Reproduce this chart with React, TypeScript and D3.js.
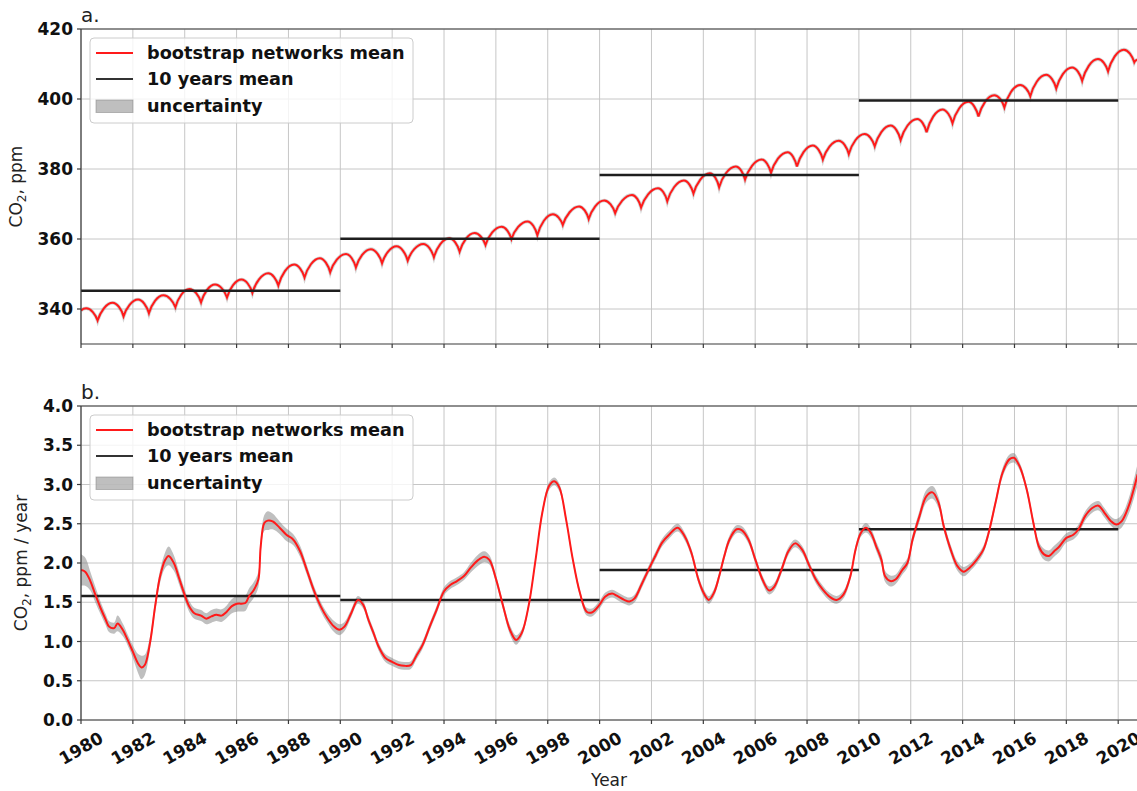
import React from "react";
import * as d3 from "d3";

// ---------- DATA ----------
const xTickYears = [1980, 1982, 1984, 1986, 1988, 1990, 1992, 1994, 1996, 1998, 2000, 2002, 2004, 2006, 2008, 2010, 2012, 2014, 2016, 2018, 2020];
const topYTicks = [340, 360, 380, 400, 420];
const bottomYTicks = [0, 0.5, 1.0, 1.5, 2.0, 2.5, 3.0, 3.5, 4.0];

// panel a: seasonal maxima / minima of CO2 (year, ppm)
const co2Extrema: [number, number][] = [
  [1980.0, 339.5], [1980.2, 340.2], [1980.64, 336.7],
  [1981.22, 341.8], [1981.64, 337.9],
  [1982.2, 342.7], [1982.62, 338.8],
  [1983.18, 343.9], [1983.64, 340.5],
  [1984.18, 345.7], [1984.63, 341.9],
  [1985.17, 347.0], [1985.63, 343.3],
  [1986.19, 348.4], [1986.61, 344.6],
  [1987.22, 350.2], [1987.61, 346.7],
  [1988.22, 352.7], [1988.62, 349.0],
  [1989.21, 354.5], [1989.61, 350.5],
  [1990.22, 355.7], [1990.6, 351.9],
  [1991.18, 357.1], [1991.61, 353.1],
  [1992.17, 357.9], [1992.6, 353.8],
  [1993.2, 358.6], [1993.61, 354.8],
  [1994.2, 360.2], [1994.6, 356.4],
  [1995.18, 361.7], [1995.6, 358.3],
  [1996.22, 363.5], [1996.6, 360.0],
  [1997.22, 365.0], [1997.6, 361.1],
  [1998.2, 367.1], [1998.58, 364.0],
  [1999.21, 369.3], [1999.58, 365.7],
  [2000.18, 371.0], [2000.6, 367.4],
  [2001.25, 372.6], [2001.6, 369.0],
  [2002.25, 374.5], [2002.61, 370.8],
  [2003.25, 376.7], [2003.62, 373.0],
  [2004.25, 378.8], [2004.61, 374.8],
  [2005.25, 380.7], [2005.61, 377.0],
  [2006.25, 382.7], [2006.61, 378.9],
  [2007.25, 384.8], [2007.61, 380.7],
  [2008.22, 386.7], [2008.61, 382.7],
  [2009.22, 388.1], [2009.61, 384.3],
  [2010.22, 390.0], [2010.61, 386.5],
  [2011.22, 392.4], [2011.61, 388.3],
  [2012.25, 394.3], [2012.61, 390.5],
  [2013.22, 397.0], [2013.61, 393.1],
  [2014.22, 399.2], [2014.61, 395.0],
  [2015.22, 401.1], [2015.61, 397.6],
  [2016.22, 404.0], [2016.61, 400.8],
  [2017.22, 406.9], [2017.61, 403.0],
  [2018.22, 409.0], [2018.61, 405.2],
  [2019.22, 411.4], [2019.61, 407.9],
  [2020.22, 414.1], [2020.62, 410.5],
  [2020.75, 411.2],
];

// panel b: growth rate (year, ppm/yr, uncertainty half-width)
const growthRate: [number, number, number][] = [
  [1980.0, 1.91, 0.2], [1980.16, 1.89, 0.18], [1980.36, 1.77, 0.12], [1980.55, 1.6, 0.1],
  [1980.75, 1.43, 0.08], [1980.95, 1.28, 0.07], [1981.08, 1.19, 0.07], [1981.28, 1.17, 0.07],
  [1981.41, 1.23, 0.1], [1981.61, 1.15, 0.08], [1981.8, 1.02, 0.07], [1982.0, 0.87, 0.08],
  [1982.2, 0.72, 0.12], [1982.33, 0.67, 0.15], [1982.46, 0.7, 0.13], [1982.66, 0.98, 0.08],
  [1982.86, 1.45, 0.08], [1983.05, 1.83, 0.08], [1983.25, 2.04, 0.1], [1983.38, 2.09, 0.12],
  [1983.58, 2.0, 0.1], [1983.78, 1.81, 0.08], [1983.97, 1.62, 0.07], [1984.17, 1.45, 0.07],
  [1984.37, 1.36, 0.07], [1984.63, 1.33, 0.07], [1984.83, 1.29, 0.07], [1985.03, 1.32, 0.08],
  [1985.22, 1.34, 0.08], [1985.42, 1.33, 0.08], [1985.62, 1.38, 0.08], [1985.82, 1.45, 0.09],
  [1986.01, 1.48, 0.1], [1986.34, 1.49, 0.1], [1986.47, 1.57, 0.1], [1986.67, 1.66, 0.1],
  [1986.84, 1.79, 0.1], [1986.93, 2.21, 0.1], [1987.07, 2.51, 0.1], [1987.2, 2.54, 0.12],
  [1987.39, 2.53, 0.1], [1987.66, 2.45, 0.08], [1987.92, 2.36, 0.08], [1988.18, 2.3, 0.07],
  [1988.45, 2.15, 0.07], [1988.71, 1.91, 0.06], [1988.97, 1.66, 0.06], [1989.24, 1.45, 0.06],
  [1989.5, 1.3, 0.06], [1989.76, 1.19, 0.07], [1989.96, 1.15, 0.07], [1990.16, 1.19, 0.06],
  [1990.42, 1.36, 0.05], [1990.68, 1.53, 0.05], [1990.88, 1.47, 0.05], [1991.08, 1.28, 0.05],
  [1991.28, 1.11, 0.05], [1991.47, 0.94, 0.05], [1991.74, 0.79, 0.05], [1992.0, 0.74, 0.05],
  [1992.26, 0.7, 0.05], [1992.46, 0.69, 0.05], [1992.72, 0.7, 0.05], [1992.92, 0.81, 0.05],
  [1993.18, 0.96, 0.05], [1993.45, 1.19, 0.05], [1993.71, 1.4, 0.05], [1994.0, 1.64, 0.05],
  [1994.24, 1.72, 0.05], [1994.5, 1.77, 0.05], [1994.76, 1.83, 0.05], [1995.03, 1.94, 0.06],
  [1995.29, 2.03, 0.07], [1995.55, 2.08, 0.07], [1995.75, 2.04, 0.06], [1996.01, 1.79, 0.05],
  [1996.28, 1.45, 0.05], [1996.54, 1.15, 0.06], [1996.78, 1.02, 0.06], [1997.0, 1.11, 0.05],
  [1997.26, 1.45, 0.04], [1997.53, 2.04, 0.04], [1997.79, 2.64, 0.04], [1998.05, 2.98, 0.05],
  [1998.25, 3.04, 0.05], [1998.45, 2.96, 0.05], [1998.71, 2.55, 0.04], [1998.97, 2.04, 0.04],
  [1999.24, 1.62, 0.04], [1999.5, 1.38, 0.05], [1999.7, 1.37, 0.05], [2000.0, 1.47, 0.05],
  [2000.21, 1.57, 0.05], [2000.48, 1.61, 0.05], [2000.68, 1.58, 0.05], [2000.95, 1.53, 0.05],
  [2001.15, 1.51, 0.05], [2001.35, 1.55, 0.05], [2001.61, 1.72, 0.05], [2001.88, 1.91, 0.05],
  [2002.15, 2.09, 0.05], [2002.41, 2.26, 0.05], [2002.68, 2.36, 0.05], [2003.01, 2.45, 0.05],
  [2003.28, 2.34, 0.05], [2003.54, 2.13, 0.05], [2003.81, 1.79, 0.05], [2004.01, 1.62, 0.05],
  [2004.21, 1.53, 0.05], [2004.41, 1.62, 0.05], [2004.61, 1.83, 0.05], [2004.81, 2.09, 0.05],
  [2005.01, 2.3, 0.05], [2005.28, 2.43, 0.05], [2005.48, 2.42, 0.05], [2005.74, 2.3, 0.05],
  [2006.01, 2.04, 0.05], [2006.28, 1.79, 0.05], [2006.54, 1.65, 0.05], [2006.74, 1.7, 0.05],
  [2007.01, 1.91, 0.05], [2007.28, 2.15, 0.05], [2007.54, 2.25, 0.05], [2007.81, 2.17, 0.05],
  [2008.07, 1.98, 0.05], [2008.34, 1.79, 0.05], [2008.61, 1.66, 0.05], [2008.87, 1.57, 0.05],
  [2009.14, 1.53, 0.05], [2009.41, 1.6, 0.05], [2009.67, 1.83, 0.05], [2009.87, 2.17, 0.05],
  [2010.07, 2.38, 0.05], [2010.27, 2.45, 0.06], [2010.47, 2.38, 0.06], [2010.67, 2.21, 0.06],
  [2010.87, 2.04, 0.07], [2011.01, 1.83, 0.07], [2011.21, 1.77, 0.07], [2011.41, 1.79, 0.06],
  [2011.67, 1.91, 0.06], [2011.87, 2.0, 0.06], [2012.07, 2.3, 0.06], [2012.34, 2.6, 0.07],
  [2012.6, 2.85, 0.08], [2012.84, 2.9, 0.08], [2013.07, 2.77, 0.07], [2013.27, 2.47, 0.06],
  [2013.54, 2.17, 0.06], [2013.8, 1.96, 0.06], [2014.04, 1.89, 0.06], [2014.27, 1.94, 0.05],
  [2014.54, 2.04, 0.05], [2014.8, 2.17, 0.05], [2015.0, 2.38, 0.05], [2015.27, 2.77, 0.05],
  [2015.54, 3.15, 0.06], [2015.8, 3.32, 0.06], [2015.98, 3.34, 0.06], [2016.2, 3.23, 0.05],
  [2016.47, 2.94, 0.05], [2016.73, 2.51, 0.05], [2016.94, 2.21, 0.06], [2017.14, 2.11, 0.07],
  [2017.33, 2.09, 0.07], [2017.53, 2.15, 0.07], [2017.73, 2.21, 0.07], [2018.0, 2.32, 0.06],
  [2018.27, 2.36, 0.06], [2018.47, 2.43, 0.06], [2018.73, 2.6, 0.06], [2019.0, 2.7, 0.06],
  [2019.24, 2.73, 0.06], [2019.47, 2.64, 0.06], [2019.73, 2.53, 0.06], [2019.93, 2.49, 0.07],
  [2020.13, 2.53, 0.08], [2020.4, 2.72, 0.1], [2020.6, 2.94, 0.12], [2020.75, 3.13, 0.14],
];

const decadeStarts = [1980, 1990, 2000, 2010];
const co2DecadeMean = [345.2, 360.1, 378.3, 399.6];
const growthDecadeMean = [1.58, 1.53, 1.91, 2.43];

const legendLabels = ["bootstrap networks mean", "10 years mean", "uncertainty"];

// ---------- LAYOUT ----------
const W = 1137;
const H = 791;
const FONT = "DejaVu Sans";
const X0 = 81;
const PX_PER_YEAR = 25.93;
const X_END = 2020.75;

const x = d3.scaleLinear().domain([1980, X_END]).range([X0, X0 + PX_PER_YEAR * (X_END - 1980)]);
const yTop = d3.scaleLinear().domain([330, 420]).range([344, 29]);
const yBot = d3.scaleLinear().domain([0, 4]).range([720, 406]);

const GRID = "#c6c6c6";
const SPINE = "#3a3a3a";
const RED = "#ff1a1a";
const MEANC = "#1e1e1e";

function seasonalPath(pts: [number, number][]): string {
  const p = d3.path();
  pts.forEach(([yr, v], i) => {
    const X = x(yr);
    const Y = yTop(v);
    if (i === 0) {
      p.moveTo(X, Y);
      return;
    }
    const [py, pv] = pts[i - 1];
    const Xp = x(py);
    const Yp = yTop(pv);
    const dx = X - Xp;
    const dy = Y - Yp;
    if (v > pv) {
      p.bezierCurveTo(Xp + 0.18 * dx, Yp + 0.5 * dy, X - 0.4 * dx, Y, X, Y);
    } else {
      p.bezierCurveTo(Xp + 0.4 * dx, Yp, X - 0.18 * dx, Y - 0.5 * dy, X, Y);
    }
  });
  return p.toString();
}

function Legend({ left, top }: { left: number; top: number }) {
  const rows = [15, 41, 68];
  return (
    <g>
      <rect x={left} y={top} width={323} height={85} rx={4} fill="white" fillOpacity={0.8} stroke="#cccccc" strokeWidth={1} />
      <line x1={left + 6} x2={left + 43} y1={top + rows[0]} y2={top + rows[0]} stroke={RED} strokeWidth={2} />
      <line x1={left + 6} x2={left + 43} y1={top + rows[1]} y2={top + rows[1]} stroke="#333" strokeWidth={2} />
      <rect x={left + 6} y={top + rows[2] - 6} width={37} height={12.5} fill="#808080" fillOpacity={0.5} stroke="#808080" strokeOpacity={0.5} strokeWidth={1} />
      {legendLabels.map((t, i) => (
        <text key={t} x={left + 57} y={top + rows[i]} dy="0.36em" fontFamily={FONT} fontWeight="bold" fontSize={17.7} fill="#111">
          {t}
        </text>
      ))}
    </g>
  );
}

function Panel({
  yScale,
  yTicks,
  fmt,
  letter,
  showXLabels,
  children,
}: {
  yScale: d3.ScaleLinear<number, number>;
  yTicks: number[];
  fmt: (v: number) => string;
  letter: string;
  showXLabels: boolean;
  children: React.ReactNode;
}) {
  const [yb, yt] = yScale.range();
  const [xl, xr] = x.range();
  const clipId = "clip-" + letter;
  return (
    <g>
      <defs>
        <clipPath id={clipId}>
          <rect x={xl} y={yt} width={xr - xl + 2} height={yb - yt} />
        </clipPath>
      </defs>
      {xTickYears.map((yr) => (
        <line key={"gx" + yr} x1={x(yr)} x2={x(yr)} y1={yt} y2={yb} stroke={GRID} strokeWidth={1} />
      ))}
      {yTicks.map((v) => (
        <line key={"gy" + v} x1={xl} x2={xr} y1={yScale(v)} y2={yScale(v)} stroke={GRID} strokeWidth={1} />
      ))}
      <g clipPath={`url(#${clipId})`}>{children}</g>
      <line x1={xl} x2={xr + 2} y1={yt} y2={yt} stroke={SPINE} strokeWidth={1.2} />
      <line x1={xl} x2={xr + 2} y1={yb} y2={yb} stroke={SPINE} strokeWidth={1.2} />
      <line x1={xl} x2={xl} y1={yt} y2={yb} stroke={SPINE} strokeWidth={1.2} />
      {yTicks.map((v) => (
        <g key={"ty" + v}>
          <line x1={xl - 4} x2={xl} y1={yScale(v)} y2={yScale(v)} stroke={SPINE} strokeWidth={1.2} />
          <text x={xl - 8} y={yScale(v)} dy="0.36em" textAnchor="end" fontFamily={FONT} fontWeight="bold" fontSize={17} fill="#111">
            {fmt(v)}
          </text>
        </g>
      ))}
      {xTickYears.map((yr) => (
        <g key={"tx" + yr}>
          <line x1={x(yr)} x2={x(yr)} y1={yb} y2={yb + 4} stroke={SPINE} strokeWidth={1.2} />
          {showXLabels && (
            <text
              transform={`translate(${x(yr)},${yb + 28}) rotate(-30)`}
              textAnchor="middle"
              dy="0.36em"
              fontFamily={FONT}
              fontWeight="bold"
              fontSize={17}
              fill="#111"
            >
              {yr}
            </text>
          )}
        </g>
      ))}
      <text x={xl} y={yt - 7} fontFamily={FONT} fontSize={20} fill="#222">
        {letter}
      </text>
    </g>
  );
}

export default function App() {
  const topLine = seasonalPath(co2Extrema);
  const bandGen = d3
    .area<[number, number, number]>()
    .x((d) => x(d[0]))
    .y0((d) => yBot(d[1] - d[2]))
    .y1((d) => yBot(d[1] + d[2]))
    .curve(d3.curveCatmullRom);
  const lineGen = d3
    .line<[number, number, number]>()
    .x((d) => x(d[0]))
    .y((d) => yBot(d[1]))
    .curve(d3.curveCatmullRom);

  return (
    <svg width={W} height={H} style={{ position: "absolute", left: 0, top: 0, background: "white" }}>
      <rect x={0} y={0} width={W} height={H} fill="white" />
      <Panel yScale={yTop} yTicks={topYTicks} fmt={(v) => String(v)} letter="a." showXLabels={false}>
        <path d={topLine} fill="none" stroke="#808080" strokeOpacity={0.35} strokeWidth={3.6} />
        <path d={topLine} fill="none" stroke={RED} strokeWidth={2} />
        {decadeStarts.map((s, i) => (
          <line key={"mt" + s} x1={x(s)} x2={x(s + 10)} y1={yTop(co2DecadeMean[i])} y2={yTop(co2DecadeMean[i])} stroke={MEANC} strokeWidth={2.5} />
        ))}
      </Panel>
      <Panel yScale={yBot} yTicks={bottomYTicks} fmt={(v) => v.toFixed(1)} letter="b." showXLabels={true}>
        <path d={bandGen(growthRate) || ""} fill="#808080" fillOpacity={0.5} />
        {decadeStarts.map((s, i) => (
          <line key={"mb" + s} x1={x(s)} x2={x(s + 10)} y1={yBot(growthDecadeMean[i])} y2={yBot(growthDecadeMean[i])} stroke={MEANC} strokeWidth={2.5} />
        ))}
        <path d={lineGen(growthRate) || ""} fill="none" stroke={RED} strokeWidth={2} />
      </Panel>
      <Legend left={90} top={38} />
      <Legend left={90} top={415} />
      <text transform="translate(22,186.5) rotate(-90)" textAnchor="middle" fontFamily={FONT} fontSize={17} fill="#222">
        CO<tspan fontSize={12} dy={4}>2</tspan>
        <tspan dy={-4}>, ppm</tspan>
      </text>
      <text transform="translate(27,563) rotate(-90)" textAnchor="middle" fontFamily={FONT} fontSize={17} fill="#222">
        CO<tspan fontSize={12} dy={4}>2</tspan>
        <tspan dy={-4}>, ppm / year</tspan>
      </text>
      <text x={609} y={786} textAnchor="middle" fontFamily={FONT} fontSize={17} fill="#222">
        Year
      </text>
    </svg>
  );
}
